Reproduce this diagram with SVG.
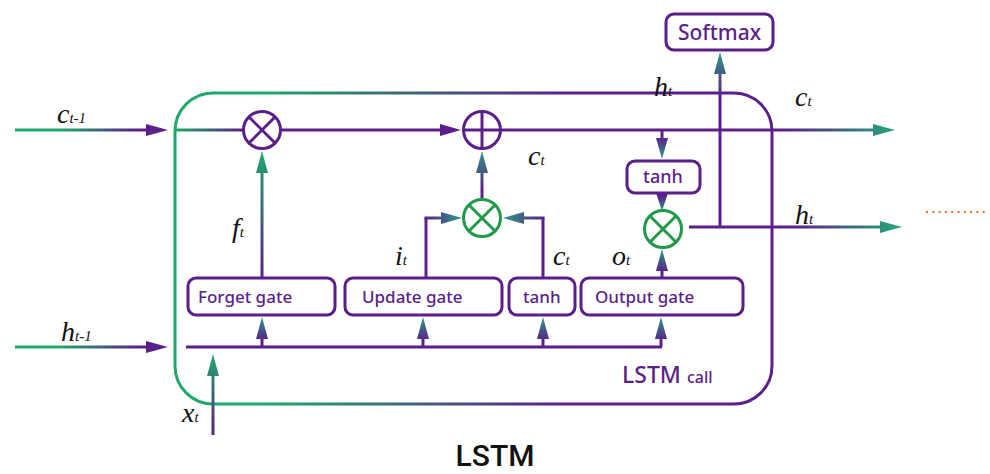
<svg xmlns="http://www.w3.org/2000/svg" width="990" height="474" viewBox="0 0 990 474">
  <defs>
    <style>
      .box { fill: #ffffff; stroke: #5b1f8b; stroke-width: 3; }
      .lbl { font-family: "Noto Sans", "Liberation Sans", sans-serif; fill: #5b1f8b; font-weight: 500; }
      .op { fill: #ffffff; stroke-width: 3; }
      .op-p { stroke: #5b1f8b; }
      .op-g { stroke: #1f9a48; }
      .op line { stroke-width: 3; }
      .wire { fill: none; stroke: #5b1f8b; stroke-width: 3; }
      .var { font-family: "Liberation Serif", "DejaVu Serif", serif; font-style: italic; fill: #111111; font-size: 28px; }
      .sub { font-size: 15px; }
    </style>
    <!-- left-to-right green into purple -->
    <linearGradient id="gInLeft" x1="0" y1="0" x2="1" y2="0">
      <stop offset="0.3" stop-color="#20a86b"/>
      <stop offset="0.8" stop-color="#5b1f8b"/>
    </linearGradient>
    <linearGradient id="gShort" x1="0" y1="0" x2="1" y2="0">
      <stop offset="0" stop-color="#20a86b"/>
      <stop offset="1" stop-color="#5b1f8b"/>
    </linearGradient>
    <!-- left-to-right purple into green (outputs) -->
    <linearGradient id="gOutC" x1="0" y1="0" x2="1" y2="0">
      <stop offset="0.72" stop-color="#5b1f8b"/>
      <stop offset="1" stop-color="#27a47a"/>
    </linearGradient>
    <linearGradient id="gOutH" x1="0" y1="0" x2="1" y2="0">
      <stop offset="0.5" stop-color="#5b1f8b"/>
      <stop offset="0.97" stop-color="#27a47a"/>
    </linearGradient>
    <!-- horizontal purple into teal, pointing right / left -->
    <linearGradient id="gRightT" x1="0" y1="0" x2="1" y2="0">
      <stop offset="0" stop-color="#5b1f8b"/>
      <stop offset="1" stop-color="#2e9a84"/>
    </linearGradient>
    <linearGradient id="gLeftT" x1="1" y1="0" x2="0" y2="0">
      <stop offset="0" stop-color="#5b1f8b"/>
      <stop offset="1" stop-color="#2e9a84"/>
    </linearGradient>
    <!-- vertical: purple at bottom, green/teal at top -->
    <linearGradient id="gUpG" x1="0" y1="1" x2="0" y2="0">
      <stop offset="0" stop-color="#5b1f8b"/>
      <stop offset="1" stop-color="#20a86b"/>
    </linearGradient>
    <linearGradient id="gUpT" x1="0" y1="1" x2="0" y2="0">
      <stop offset="0.2" stop-color="#5b1f8b"/>
      <stop offset="1" stop-color="#2e9a84"/>
    </linearGradient>
    <linearGradient id="gUpSoft" x1="0" y1="1" x2="0" y2="0">
      <stop offset="0.75" stop-color="#5b1f8b"/>
      <stop offset="1" stop-color="#2e9a84"/>
    </linearGradient>
    <!-- vertical: purple at top, teal at bottom -->
    <linearGradient id="gDownT" x1="0" y1="0" x2="0" y2="1">
      <stop offset="0.2" stop-color="#5b1f8b"/>
      <stop offset="1" stop-color="#2e9a84"/>
    </linearGradient>
    <!-- cell frame: green on the left, purple on the right -->
    <linearGradient id="gFrame" gradientUnits="userSpaceOnUse" x1="175" y1="0" x2="772" y2="0">
      <stop offset="0.15" stop-color="#20a86b"/>
      <stop offset="0.65" stop-color="#5b1f8b"/>
    </linearGradient>
  </defs>

  <rect width="990" height="474" fill="#ffffff"/>

  <!-- LSTM cell frame -->
  <g id="cell">
    <rect x="175" y="93" width="597" height="311" rx="38" fill="none" stroke="url(#gFrame)" stroke-width="3"/>
    <text x="622" y="383" class="lbl" font-size="23">LSTM<tspan font-size="16" dx="6">call</tspan></text>
  </g>

  <g id="connectors">
    <!-- c(t-1) and h(t-1) inputs -->
    <polygon points="15,128.5 146,128.5 146,124 168,130 146,136 146,131.5 15,131.5" fill="url(#gInLeft)"/>
    <polygon points="15,345.5 146,345.5 146,341 168,347 146,353 146,348.5 15,348.5" fill="url(#gInLeft)"/>
    <!-- cell state path -->
    <rect x="175" y="128.5" width="68" height="3" fill="url(#gShort)"/>
    <polygon points="281,128.5 440,128.5 440,124 461,130 440,136 440,131.5 281,131.5" fill="#5b1f8b"/>
    <polygon points="501,128.5 873,128.5 873,124 895,130 873,136 873,131.5 501,131.5" fill="url(#gOutC)"/>
    <!-- forget gate output -->
    <polygon points="260.5,278 260.5,173 256,173 262,151 268,173 263.5,173 263.5,278" fill="url(#gUpG)"/>
    <!-- input bus -->
    <rect x="186" y="345.5" width="476" height="3" fill="#5b1f8b"/>
    <polygon points="260.5,347 260.5,339 256,339 262,317 268,339 263.5,339 263.5,347" fill="url(#gUpT)"/>
    <polygon points="421.5,347 421.5,339 417,339 423,317 429,339 424.5,339 424.5,347" fill="url(#gUpT)"/>
    <polygon points="541.5,347 541.5,339 537,339 543,317 549,339 544.5,339 544.5,347" fill="url(#gUpT)"/>
    <polygon points="659.5,347 659.5,339 655,339 661,317 667,339 662.5,339 662.5,347" fill="url(#gUpT)"/>
    <!-- x(t) input -->
    <polygon points="211.5,435 211.5,376 207,376 213,354 219,376 214.5,376 214.5,435" fill="url(#gUpG)"/>
    <!-- update gate and candidate into the green multiplier -->
    <path class="wire" d="M426 278 V218"/>
    <polygon points="424.5,216.5 441,216.5 441,212 462,218 441,224 441,219.5 424.5,219.5" fill="url(#gRightT)"/>
    <path class="wire" d="M543 278 V218"/>
    <polygon points="544.5,216.5 524,216.5 524,212 503,218 524,224 524,219.5 544.5,219.5" fill="url(#gLeftT)"/>
    <!-- multiplier into adder -->
    <polygon points="480.5,199 480.5,173 476,173 482,151 488,173 483.5,173 483.5,199" fill="url(#gUpT)"/>
    <!-- c(t) into tanh, tanh into output multiplier -->
    <polygon points="660.5,131 660.5,138 656,138 662,159 668,138 663.5,138 663.5,131" fill="url(#gDownT)"/>
    <polygon points="656,193 668,193 662,211" fill="url(#gDownT)"/>
    <!-- output gate into multiplier -->
    <polygon points="660.5,278 660.5,271 656,271 662,249 668,271 663.5,271 663.5,278" fill="url(#gUpT)"/>
    <!-- h(t) output and softmax branch -->
    <polygon points="689,225.5 880,225.5 880,221 902,227 880,233 880,228.5 689,228.5" fill="url(#gOutH)"/>
    <polygon points="718.5,227 718.5,74 714,74 720,52 726,74 721.5,74 721.5,227" fill="url(#gUpSoft)"/>
    <!-- continuation -->
    <line x1="926" y1="212" x2="988" y2="212" stroke="#f26b2a" stroke-width="2" stroke-dasharray="2 4.3"/>
  </g>

  <!-- pointwise operators -->
  <g id="mul-forget" class="op op-p">
    <circle cx="262" cy="130" r="18.5"/>
    <line x1="249" y1="117" x2="275" y2="143"/>
    <line x1="275" y1="117" x2="249" y2="143"/>
  </g>
  <g id="add-cell" class="op op-p">
    <circle cx="482" cy="130" r="18.5"/>
    <line x1="463.5" y1="130" x2="500.5" y2="130"/>
    <line x1="482" y1="111.5" x2="482" y2="148.5"/>
  </g>
  <g id="mul-update" class="op op-g">
    <circle cx="482" cy="218" r="18.5"/>
    <line x1="469" y1="205" x2="495" y2="231"/>
    <line x1="495" y1="205" x2="469" y2="231"/>
  </g>
  <g id="mul-output" class="op op-g">
    <circle cx="663" cy="229" r="18.5"/>
    <line x1="650" y1="216" x2="676" y2="242"/>
    <line x1="676" y1="216" x2="650" y2="242"/>
  </g>

  <!-- gates -->
  <g id="forget-gate">
    <rect class="box" x="188" y="278" width="147" height="37" rx="8"/>
    <text class="lbl" x="198" y="303" font-size="17">Forget gate</text>
  </g>
  <g id="update-gate">
    <rect class="box" x="345" y="278" width="157" height="37" rx="8"/>
    <text class="lbl" x="362" y="303" font-size="17">Update gate</text>
  </g>
  <g id="candidate-tanh">
    <rect class="box" x="509" y="278" width="66" height="37" rx="8"/>
    <text class="lbl" x="523" y="303" font-size="17">tanh</text>
  </g>
  <g id="output-gate">
    <rect class="box" x="581" y="278" width="162" height="37" rx="8"/>
    <text class="lbl" x="595" y="303" font-size="17">Output gate</text>
  </g>
  <g id="cell-tanh">
    <rect class="box" x="627" y="161" width="73" height="32" rx="8"/>
    <text class="lbl" x="643" y="183" font-size="18">tanh</text>
  </g>
  <g id="softmax">
    <rect class="box" x="666" y="14" width="107" height="36" rx="8"/>
    <text class="lbl" x="719.5" y="40" font-size="21" text-anchor="middle">Softmax</text>
  </g>

  <!-- variable labels -->
  <g id="labels">
    <text class="var" x="57" y="123">c<tspan class="sub">t-1</tspan></text>
    <text class="var" x="61" y="341" font-size="30">h<tspan class="sub">t-1</tspan></text>
    <text class="var" x="182" y="422">x<tspan class="sub">t</tspan></text>
    <text class="var" x="232" y="237" font-size="31">f<tspan class="sub">t</tspan></text>
    <text class="var" x="395" y="265">i<tspan class="sub">t</tspan></text>
    <text class="var" x="553" y="265">c<tspan class="sub">t</tspan></text>
    <text class="var" x="612" y="265">o<tspan class="sub">t</tspan></text>
    <text class="var" x="528" y="165">c<tspan class="sub">t</tspan></text>
    <text class="var" x="654" y="96" font-size="30">h<tspan class="sub">t</tspan></text>
    <text class="var" x="795" y="106">c<tspan class="sub">t</tspan></text>
    <text class="var" x="795" y="224" font-size="30">h<tspan class="sub">t</tspan></text>
  </g>

  <text x="495" y="466" text-anchor="middle" font-family="Roboto, 'Liberation Sans', sans-serif" font-weight="500" font-size="30" fill="#111111">LSTM</text>
</svg>
